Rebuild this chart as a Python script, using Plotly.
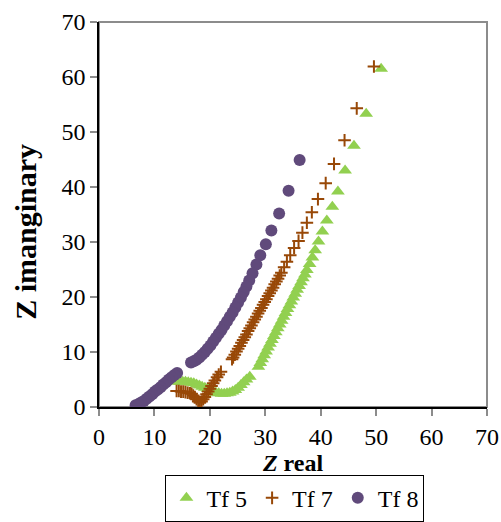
import plotly.graph_objects as go

# ---- data ----
tf5_x = [50.9, 48.2, 46.0, 44.4, 43.1, 42.1, 41.1, 40.3, 39.6, 39.0, 38.5, 38.0,
         37.5, 37.15, 36.8, 36.45, 36.1, 35.75, 35.4, 35.05, 34.7, 34.35, 34.0, 33.65,
         33.3, 32.95, 32.6, 32.25, 31.9, 31.55, 31.2, 30.85, 30.5, 30.15, 29.8, 29.45,
         29.1, 28.75,
         27.2, 26.6, 26.1, 25.6, 25.1, 24.6, 24.1, 23.6, 23.1, 22.6, 22.1, 21.6, 21.1,
         20.6, 20.1, 19.6, 19.1, 18.6, 18.1, 17.6, 17.1, 16.6, 16.1, 15.6, 15.1, 14.6, 14.2]
tf5_y = [61.5, 53.3, 47.5, 43.0, 39.2, 36.4, 33.9, 31.9, 30.1, 28.5, 27.2, 26.0,
         24.9, 24.1, 23.4, 22.7, 22.0, 21.3, 20.6, 19.9, 19.2, 18.5, 17.8, 17.1,
         16.4, 15.7, 15.0, 14.3, 13.6, 12.9, 12.2, 11.5, 10.8, 10.1, 9.4, 8.7,
         8.0, 7.3,
         5.5, 5.0, 4.5, 4.0, 3.5, 3.1, 2.8, 2.6, 2.5, 2.4, 2.4, 2.5, 2.6,
         2.8, 3.0, 3.3, 3.5, 3.7, 3.9, 4.1, 4.3, 4.4, 4.5, 4.6, 4.6, 4.6, 4.6]

tf7_x = [49.6, 46.5, 44.3, 42.4, 40.9, 39.5, 38.4, 37.5, 36.7, 36.0, 35.2, 34.5, 33.9,
         33.4, 32.9, 32.6, 32.3, 32.0, 31.7, 31.4, 31.1, 30.8, 30.5, 30.2, 29.9, 29.6,
         29.3, 29.0, 28.7, 28.4, 28.1, 27.8, 27.5, 27.2, 26.9, 26.6, 26.3, 26.0, 25.7,
         25.4, 25.1, 24.8, 24.5, 24.2, 24.0,
         22.0, 21.6, 21.3, 20.9, 20.6, 20.3, 20.0, 19.7, 19.4, 19.1, 18.8, 18.5, 18.2,
         17.9, 17.6, 17.3, 17.0, 16.7, 16.4, 16.0, 15.6, 15.2, 14.8, 14.4, 14.0]
tf7_y = [61.9, 54.3, 48.5, 44.2, 40.7, 37.8, 35.4, 33.5, 31.7, 30.2, 28.9, 27.6, 26.4,
         25.4, 24.4, 23.9, 23.3, 22.8, 22.3, 21.7, 21.2, 20.7, 20.2, 19.6, 19.1, 18.6,
         18.0, 17.5, 17.0, 16.4, 15.9, 15.4, 14.8, 14.3, 13.8, 13.2, 12.7, 12.2, 11.7,
         11.1, 10.6, 10.1, 9.5, 9.0, 8.7,
         6.4, 5.9, 5.4, 4.8, 4.3, 3.8, 3.3, 2.8, 2.3, 1.8, 1.4, 1.0, 0.8,
         1.0, 1.4, 1.8, 2.1, 2.4, 2.5, 2.6, 2.7, 2.8, 2.8, 2.9, 2.9]

tf8_x = [36.2, 34.2, 32.5, 31.1, 30.1, 29.1, 28.4, 27.7, 27.1, 26.6, 26.1, 25.6, 25.1,
         24.6, 24.1, 23.6, 23.1, 22.6, 22.1, 21.6, 21.1, 20.6, 20.1, 19.6, 19.1, 18.6,
         18.1, 17.6, 17.1, 16.6,
         14.1, 13.6, 13.1, 12.6, 12.1, 11.6, 11.1, 10.6, 10.1, 9.6, 9.1, 8.6, 8.1, 7.6,
         7.1, 6.6]
tf8_y = [44.9, 39.3, 35.2, 32.1, 29.6, 27.6, 25.9, 24.3, 23.0, 21.9, 20.9, 19.9, 19.0,
         18.1, 17.2, 16.4, 15.6, 14.8, 14.0, 13.3, 12.6, 11.9, 11.2, 10.6, 10.0, 9.5,
         9.0, 8.6, 8.3, 8.1,
         6.2, 5.8, 5.4, 5.0, 4.5, 4.1, 3.6, 3.2, 2.8, 2.3, 1.9, 1.5, 1.1, 0.8,
         0.5, 0.3]

x_ticks = [0, 10, 20, 30, 40, 50, 60, 70]
y_ticks = [0, 10, 20, 30, 40, 50, 60, 70]

FONT = "Liberation Serif, Times New Roman, Times, serif"

fig = go.Figure()
fig.add_trace(go.Scatter(x=tf5_x, y=tf5_y, mode="markers", name="Tf 5",
                         marker=dict(symbol="triangle-up", size=12, color="#92D050",
                                     line=dict(width=0))))
fig.add_trace(go.Scatter(x=tf7_x, y=tf7_y, mode="markers", name="Tf 7",
                         marker=dict(symbol="cross-thin", size=9, color="#984807",
                                     line=dict(width=2, color="#984807"))))
fig.add_trace(go.Scatter(x=tf8_x, y=tf8_y, mode="markers", name="Tf 8",
                         marker=dict(symbol="circle", size=12, color="#604A7B",
                                     line=dict(width=0))))

# gray frame (top/right visible)
fig.add_shape(type="rect", xref="paper", yref="paper", x0=0, y0=0, x1=1, y1=1,
              line=dict(color="#8c8c8c", width=2), layer="below")

# y-axis title (placed like the reference, slightly below the axis centre)
fig.add_annotation(text="<b>Z imanginary</b>", xref="paper", yref="paper",
                   x=0, y=0.455, xshift=-73, xanchor="center", yanchor="middle",
                   textangle=-90, showarrow=False,
                   font=dict(family=FONT, size=30, color="black"))

fig.update_layout(
    width=501, height=522,
    margin=dict(l=99, r=14, t=22, b=115, autoexpand=False),
    paper_bgcolor="white", plot_bgcolor="white",
    font=dict(family=FONT, size=24, color="black"),
    showlegend=True,
    legend=dict(orientation="h", x=0.505, xanchor="center", y=-0.176, yanchor="top",
                bordercolor="black", borderwidth=1, font=dict(family=FONT, size=24),
                itemwidth=30, tracegroupgap=0),
)
fig.update_xaxes(range=[0, 70], tickvals=x_ticks, ticks="outside", ticklen=7,
                 tickcolor="#8c8c8c", tickwidth=1.5, showgrid=False, zeroline=False,
                 showline=True, linecolor="black", linewidth=1.5, automargin=False,
                 tickfont=dict(family=FONT, size=24),
                 title=dict(text="<b><i>Z</i> real</b>", font=dict(family=FONT, size=24),
                            standoff=6))
fig.update_yaxes(range=[0, 70], tickvals=y_ticks, ticks="outside", ticklen=7,
                 tickcolor="#8c8c8c", tickwidth=1.5, showgrid=False, zeroline=False,
                 showline=True, linecolor="black", linewidth=1.5, automargin=False,
                 tickfont=dict(family=FONT, size=24))

fig.write_html("out.html")
